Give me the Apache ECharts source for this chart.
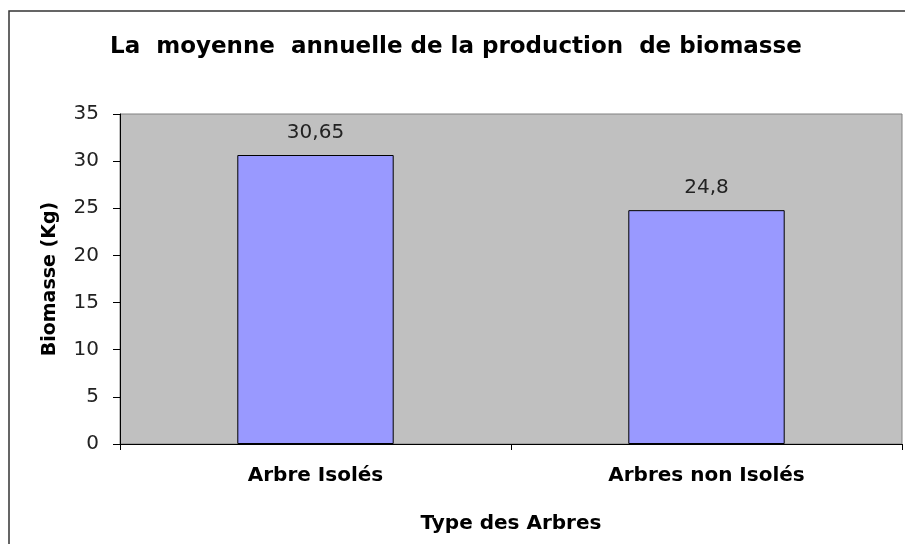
<!DOCTYPE html>
<html>
<head>
<meta charset="utf-8">
<title>Biomasse</title>
<script src="https://cdn.jsdelivr.net/npm/echarts@6/dist/echarts.min.js"></script>
<style>
  html, body { margin: 0; padding: 0; background: #fff; }
  #chart { width: 905px; height: 544px; }
</style>
</head>
<body>
<div id="chart"></div>
<script>
  // données
  var categories = ['Arbre Isolés', 'Arbres non Isolés'];
  var biomasse = [30.65, 24.8];
  var yTicks = [0, 5, 10, 15, 20, 25, 30, 35];

  var chart = echarts.init(document.getElementById('chart'));

  chart.setOption({
    backgroundColor: '#ffffff',
    animation: false,
    title: {
      text: 'La  moyenne  annuelle de la production  de biomasse',
      left: 105,
      top: 31,
      textStyle: {
        fontFamily: 'DejaVu Sans',
        fontWeight: 'bold',
        fontSize: 23,
        color: '#000'
      }
    },
    graphic: [{
      type: 'rect',
      shape: { x: 9, y: 11, width: 920, height: 560 },
      style: { fill: 'none', stroke: '#333', lineWidth: 1.5 },
      silent: true
    }],
    grid: {
      left: 120,
      top: 114,
      right: 3,
      bottom: 100,
      show: true,
      backgroundColor: '#C0C0C0',
      borderColor: '#808080',
      borderWidth: 1
    },
    xAxis: {
      type: 'category',
      data: categories,
      name: 'Type des Arbres',
      nameLocation: 'middle',
      nameGap: 70,
      nameTextStyle: {
        fontFamily: 'DejaVu Sans',
        fontWeight: 'bold',
        fontSize: 20,
        color: '#000'
      },
      axisLine: { lineStyle: { color: '#000', width: 1 } },
      axisTick: { show: true, length: 6, lineStyle: { color: '#000' } },
      axisLabel: {
        margin: 22,
        fontFamily: 'DejaVu Sans',
        fontWeight: 'bold',
        fontSize: 20,
        color: '#000'
      },
      splitLine: { show: false }
    },
    yAxis: {
      type: 'value',
      min: yTicks[0],
      max: yTicks[yTicks.length - 1],
      interval: 5,
      name: 'Biomasse (Kg)',
      nameLocation: 'middle',
      nameGap: 60,
      nameTextStyle: {
        fontFamily: 'DejaVu Sans',
        fontWeight: 'bold',
        fontSize: 19,
        color: '#000'
      },
      axisLine: { show: true, lineStyle: { color: '#000', width: 1 } },
      axisTick: { show: true, length: 7, lineStyle: { color: '#000' } },
      axisLabel: {
        margin: 21,
        fontFamily: 'DejaVu Sans',
        fontSize: 20,
        color: '#222'
      },
      splitLine: { show: false }
    },
    series: [{
      type: 'bar',
      data: biomasse,
      barWidth: '40%',
      itemStyle: {
        color: '#9999FF',
        borderColor: '#000',
        borderWidth: 1
      },
      label: {
        show: true,
        position: 'top',
        distance: 12,
        fontFamily: 'DejaVu Sans',
        fontSize: 20,
        color: '#222',
        formatter: function (p) {
          return String(p.value).replace('.', ',');
        }
      }
    }]
  });
</script>
</body>
</html>
